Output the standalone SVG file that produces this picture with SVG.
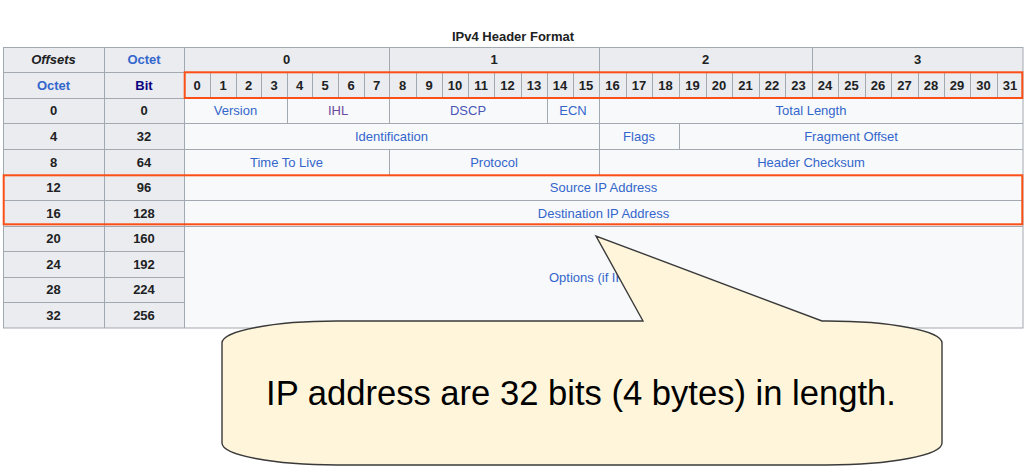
<svg xmlns="http://www.w3.org/2000/svg" width="1029" height="472" viewBox="0 0 1029 472">
<style>
text{font-family:"Liberation Sans",Arial,sans-serif;font-size:13px;text-anchor:middle}
.b{font-weight:bold;fill:#202122}
.lnk{fill:#3366cc}
.vis{fill:#6b4ba1}
.g{stroke:#a2a9b1;stroke-width:1;fill:none}
.hl{fill:none;stroke:#fa4f16;stroke-width:2}
.title{font-size:13px;font-weight:bold;fill:#202122}
</style>
<rect width="1029" height="472" fill="#ffffff"/>
<text class="title" x="513" y="41">IPv4 Header Format</text>
<g id="table">
  <rect x="3" y="47" width="1020" height="281" fill="#f8f9fa"/>
  <rect x="3" y="47" width="181" height="281" fill="#eaecf0"/>
  <rect x="184" y="47" width="839" height="51" fill="#eaecf0"/>
  <g class="g">
    <path d="M3 72.5H1023M3 98.5H1023M3 123.5H1023M3 149.5H1023M3 175.5H1023M3 200.5H1023M3 226.5H1023M3 251.5H184M3 277.5H184M3 302.5H184"/>
    <path d="M104.5 47V328M184.5 47V328"/>
    <path d="M389.5 47V72M599.5 47V72M812.5 47V72"/>
    <path d="M210.5 72V98M236.5 72V98M261.5 72V98M287.5 72V98M312.5 72V98M338.5 72V98M364.5 72V98M389.5 72V98M416.5 72V98M442.5 72V98M468.5 72V98M494.5 72V98M521.5 72V98M547.5 72V98M573.5 72V98M599.5 72V98M626.5 72V98M652.5 72V98M679.5 72V98M706.5 72V98M732.5 72V98M759.5 72V98M785.5 72V98M812.5 72V98M838.5 72V98M865.5 72V98M891.5 72V98M918.5 72V98M944.5 72V98M970.5 72V98M997.5 72V98"/>
    <path d="M287.5 98V123M389.5 98V123M547.5 98V123M599.5 98V123"/>
    <path d="M599.5 123V149M679.5 123V149"/>
    <path d="M389.5 149V175M599.5 149V175"/>
    <rect x="3.5" y="47.5" width="1019.5" height="280.5"/>
  </g>
  <text class="b" x="53.5" y="64.3" font-style="italic">Offsets</text>
  <text class="b" x="144" y="64.3" style="fill:#3366cc">Octet</text>
  <text class="b" x="286.5" y="64.3">0</text>
  <text class="b" x="494" y="64.3">1</text>
  <text class="b" x="705.5" y="64.3">2</text>
  <text class="b" x="917.5" y="64.3">3</text>
  <text class="b" x="53.5" y="89.6" style="fill:#3366cc">Octet</text>
  <text class="b" x="144" y="89.6" style="fill:#0b0080">Bit</text>
  <g class="b">
    <text class="b" x="197" y="89.6">0</text><text class="b" x="223" y="89.6">1</text><text class="b" x="248.5" y="89.6">2</text><text class="b" x="274" y="89.6">3</text>
    <text class="b" x="299.5" y="89.6">4</text><text class="b" x="325" y="89.6">5</text><text class="b" x="351" y="89.6">6</text><text class="b" x="376.5" y="89.6">7</text>
    <text class="b" x="402.5" y="89.6">8</text><text class="b" x="429" y="89.6">9</text><text class="b" x="455" y="89.6">10</text><text class="b" x="481" y="89.6">11</text>
    <text class="b" x="507.5" y="89.6">12</text><text class="b" x="534" y="89.6">13</text><text class="b" x="560" y="89.6">14</text><text class="b" x="586" y="89.6">15</text>
    <text class="b" x="612.5" y="89.6">16</text><text class="b" x="639" y="89.6">17</text><text class="b" x="665.5" y="89.6">18</text><text class="b" x="692.5" y="89.6">19</text>
    <text class="b" x="719" y="89.6">20</text><text class="b" x="745.5" y="89.6">21</text><text class="b" x="772" y="89.6">22</text><text class="b" x="798.5" y="89.6">23</text>
    <text class="b" x="825" y="89.6">24</text><text class="b" x="851.5" y="89.6">25</text><text class="b" x="878" y="89.6">26</text><text class="b" x="904.5" y="89.6">27</text>
    <text class="b" x="931" y="89.6">28</text><text class="b" x="957" y="89.6">29</text><text class="b" x="983.5" y="89.6">30</text><text class="b" x="1010" y="89.6">31</text>
  </g>
  <text class="b" x="53.5" y="115.1">0</text><text class="b" x="144" y="115.1">0</text>
  <text class="b" x="53.5" y="140.6">4</text><text class="b" x="144" y="140.6">32</text>
  <text class="b" x="53.5" y="166.6">8</text><text class="b" x="144" y="166.6">64</text>
  <text class="b" x="53.5" y="192.1">12</text><text class="b" x="144" y="192.1">96</text>
  <text class="b" x="53.5" y="217.6">16</text><text class="b" x="144" y="217.6">128</text>
  <text class="b" x="53.5" y="243.1">20</text><text class="b" x="144" y="243.1">160</text>
  <text class="b" x="53.5" y="268.6">24</text><text class="b" x="144" y="268.6">192</text>
  <text class="b" x="53.5" y="294.1">28</text><text class="b" x="144" y="294.1">224</text>
  <text class="b" x="53.5" y="319.6">32</text><text class="b" x="144" y="319.6">256</text>
  <text class="lnk" x="235.5" y="115.1">Version</text>
  <text class="vis" x="338" y="115.1">IHL</text>
  <text x="468" y="115.1" fill="#4a55b8">DSCP</text>
  <text class="lnk" x="573" y="115.1">ECN</text>
  <text class="lnk" x="811" y="115.1">Total Length</text>
  <text class="lnk" x="391.5" y="140.6">Identification</text>
  <text class="lnk" x="639" y="140.6">Flags</text>
  <text class="lnk" x="851" y="140.6">Fragment Offset</text>
  <text class="lnk" x="286.5" y="166.6">Time To Live</text>
  <text class="lnk" x="494" y="166.6">Protocol</text>
  <text class="lnk" x="811" y="166.6">Header Checksum</text>
  <text class="lnk" x="603.5" y="192.1">Source IP Address</text>
  <text class="lnk" x="603.5" y="217.6">Destination IP Address</text>
  <text class="lnk" x="603.5" y="281.5">Options (if IHL &gt; 5)</text>
  <rect class="hl" x="184.7" y="72.3" width="837.6" height="25.7"/>
  <rect class="hl" x="3.7" y="175.3" width="1018.6" height="49"/>
</g>
<g id="callout">
  <path d="M643 321L596 236L822 321L827 321A115 22 0 0 1 942 343L942 443A115 22 0 0 1 827 465L337 465A115 22 0 0 1 222 443L222 343A115 22 0 0 1 337 321Z" fill="#fff5da" stroke="#3a3a3a" stroke-width="1.4" stroke-linejoin="miter"/>
  <text x="581" y="405" style="font-size:34.6px;fill:#000">IP address are 32 bits (4 bytes) in length.</text>
</g>
</svg>
